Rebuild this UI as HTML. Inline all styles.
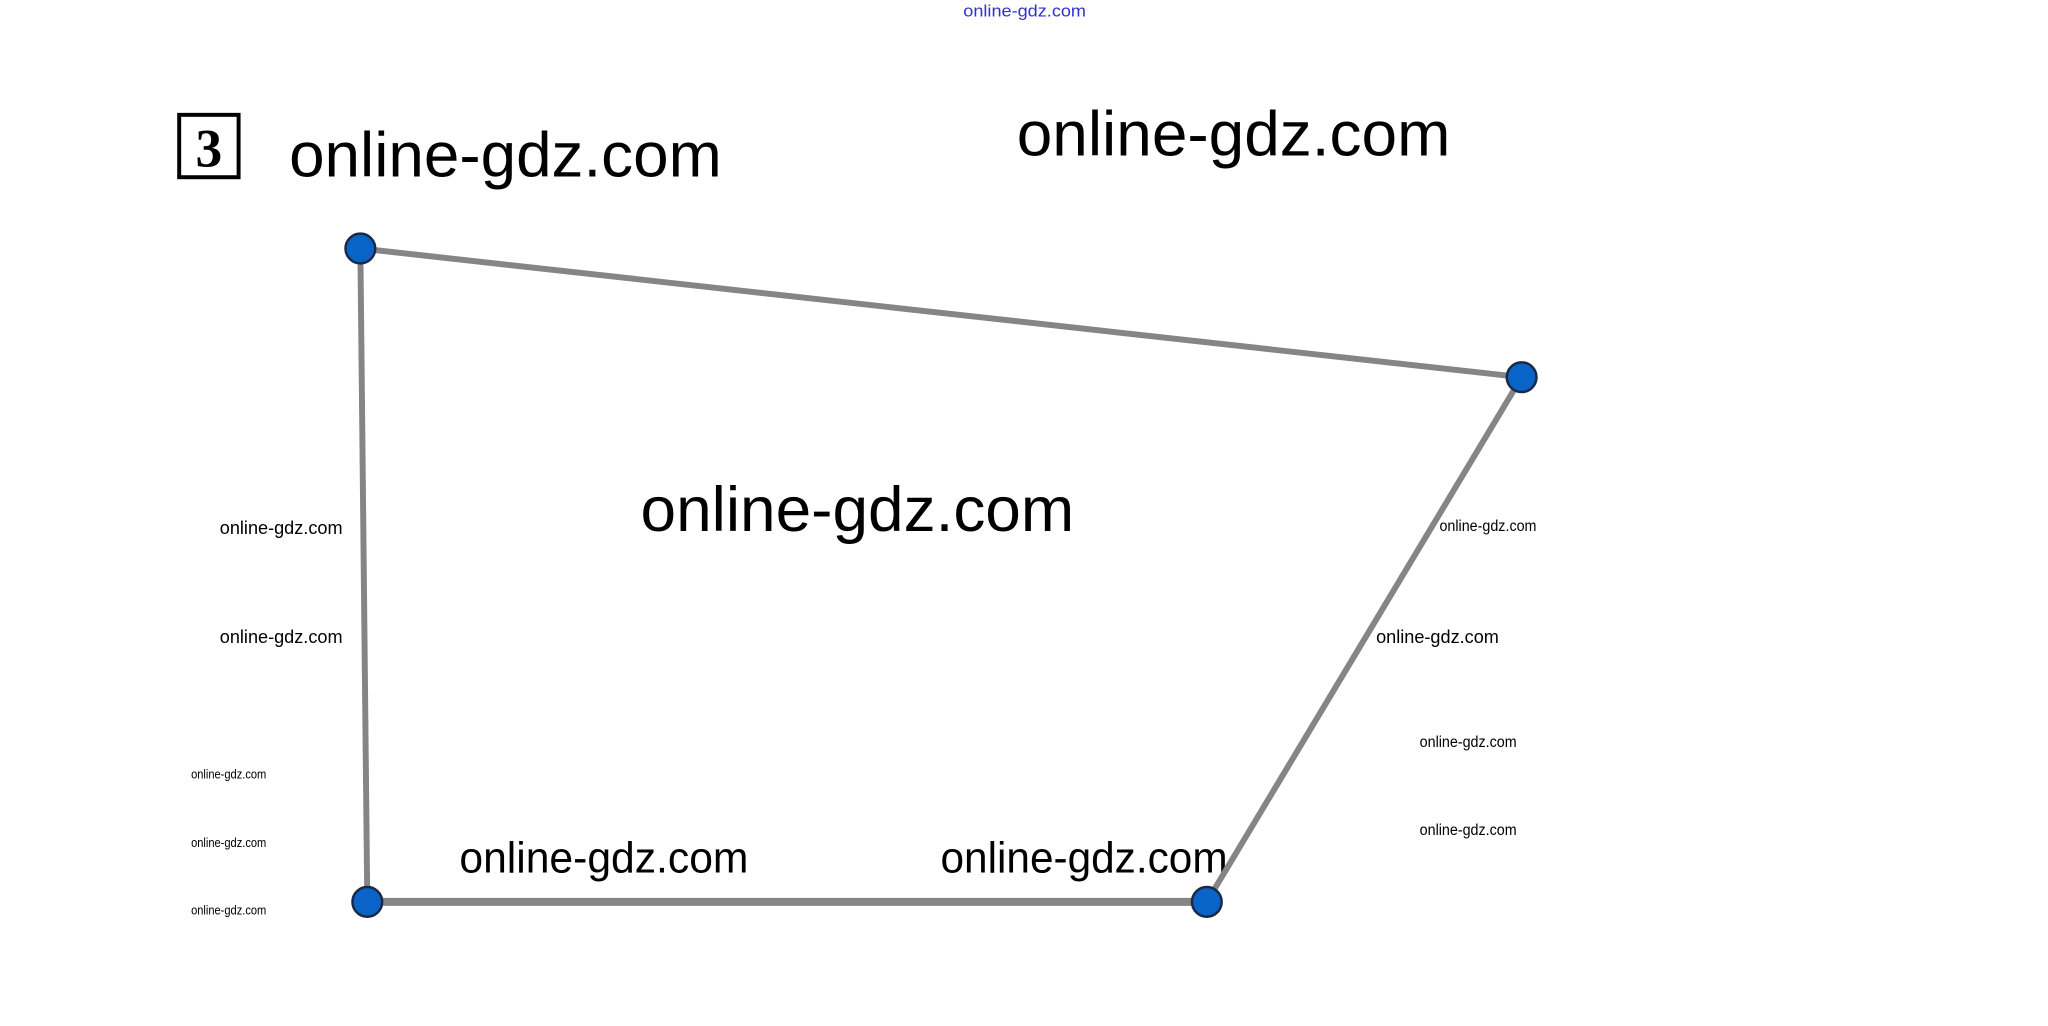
<!DOCTYPE html>
<html><head><meta charset="utf-8"><style>
html,body{margin:0;padding:0;background:#fff;}
svg{display:block;}
text{font-family:"Liberation Sans",sans-serif;fill:#000;}
</style></head><body>
<svg width="2048" height="1026" viewBox="0 0 2048 1026" xmlns="http://www.w3.org/2000/svg">
<rect width="2048" height="1026" fill="#fff"/>
<g transform="scale(0.99)">
<text x="973" y="11" font-size="17" fill="#3030d0" style="fill:#3030d0" dominant-baseline="central" textLength="124" lengthAdjust="spacingAndGlyphs">online-gdz.com</text>
<rect x="181" y="116" width="60" height="63" fill="none" stroke="#000" stroke-width="4"/>
<text x="211" y="150" font-size="54" font-weight="bold" text-anchor="middle" dominant-baseline="central" style="font-family:'Liberation Serif',serif">3</text>
<text x="292" y="157" font-size="64" dominant-baseline="central" textLength="437" lengthAdjust="spacingAndGlyphs">online-gdz.com</text>
<text x="1027" y="136" font-size="64" dominant-baseline="central" textLength="438" lengthAdjust="spacingAndGlyphs">online-gdz.com</text>
<text x="647" y="515" font-size="64" dominant-baseline="central" textLength="438" lengthAdjust="spacingAndGlyphs">online-gdz.com</text>
<text x="464" y="867" font-size="44" dominant-baseline="central" textLength="292" lengthAdjust="spacingAndGlyphs">online-gdz.com</text>
<text x="950" y="867" font-size="44" dominant-baseline="central" textLength="290" lengthAdjust="spacingAndGlyphs">online-gdz.com</text>
<text x="222" y="533" font-size="19" dominant-baseline="central" textLength="124" lengthAdjust="spacingAndGlyphs">online-gdz.com</text>
<text x="222" y="643" font-size="19" dominant-baseline="central" textLength="124" lengthAdjust="spacingAndGlyphs">online-gdz.com</text>
<text x="193" y="782" font-size="13" dominant-baseline="central" textLength="76" lengthAdjust="spacingAndGlyphs">online-gdz.com</text>
<text x="193" y="851" font-size="13" dominant-baseline="central" textLength="76" lengthAdjust="spacingAndGlyphs">online-gdz.com</text>
<text x="193" y="919" font-size="13" dominant-baseline="central" textLength="76" lengthAdjust="spacingAndGlyphs">online-gdz.com</text>
<text x="1454" y="532" font-size="16" dominant-baseline="central" textLength="98" lengthAdjust="spacingAndGlyphs">online-gdz.com</text>
<text x="1390" y="643" font-size="19" dominant-baseline="central" textLength="124" lengthAdjust="spacingAndGlyphs">online-gdz.com</text>
<text x="1434" y="750" font-size="16" dominant-baseline="central" textLength="98" lengthAdjust="spacingAndGlyphs">online-gdz.com</text>
<text x="1434" y="839" font-size="16" dominant-baseline="central" textLength="98" lengthAdjust="spacingAndGlyphs">online-gdz.com</text>
<g stroke="#858585" stroke-width="6" stroke-linecap="round" fill="none">
<line x1="364" y1="251" x2="1537" y2="381"/>
<line x1="1537" y1="381" x2="1219" y2="911"/>
<line x1="364" y1="251" x2="371" y2="911"/>
<line x1="371" y1="911" x2="1219" y2="911" stroke-width="8"/>
</g>
<g fill="#0a64c8" stroke="#1a2a44" stroke-width="2.5">
<circle cx="364" cy="251" r="15"/>
<circle cx="1537" cy="381" r="15"/>
<circle cx="371" cy="911" r="15"/>
<circle cx="1219" cy="911" r="15"/>
</g>
</g>
</svg>
</body></html>
